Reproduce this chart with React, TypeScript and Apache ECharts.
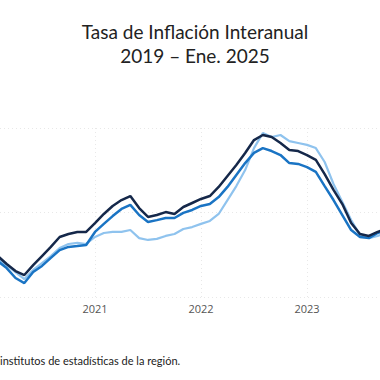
import React, { useEffect, useRef } from "react";
import * as echarts from "echarts";

const months: string[] = [
  "2020-02","2020-03","2020-04","2020-05","2020-06","2020-07","2020-08","2020-09","2020-10","2020-11","2020-12",
  "2021-01","2021-02","2021-03","2021-04","2021-05","2021-06","2021-07","2021-08","2021-09","2021-10","2021-11","2021-12",
  "2022-01","2022-02","2022-03","2022-04","2022-05","2022-06","2022-07","2022-08","2022-09","2022-10","2022-11","2022-12",
  "2023-01","2023-02","2023-03","2023-04","2023-05","2023-06","2023-07","2023-08","2023-09","2023-10",
];

const serieOscura: number[] = [
  1.94,1.56,1.23,1.04,1.51,1.94,2.37,2.84,2.98,3.08,3.08,
  3.50,3.93,4.31,4.59,4.78,4.21,3.79,3.88,4.02,3.93,4.26,4.45,
  4.64,4.78,5.21,5.73,6.25,6.82,7.43,7.67,7.57,7.29,6.96,6.91,
  6.72,6.49,5.82,5.07,4.40,3.50,2.98,2.89,3.08,3.22,
];

const serieMedia: number[] = [
  1.70,1.37,0.90,0.66,1.18,1.47,1.85,2.22,2.37,2.41,2.46,
  3.08,3.46,3.83,4.17,4.36,3.88,3.55,3.64,3.74,3.74,3.98,4.12,
  4.31,4.40,4.73,5.21,5.78,6.34,6.82,7.05,6.91,6.72,6.34,6.30,
  6.15,5.92,5.25,4.59,3.88,3.17,2.84,2.79,3.03,3.17,
];

const serieClara: number[] = [
  1.80,1.51,1.18,0.85,1.28,1.61,1.94,2.32,2.51,2.56,2.51,
  2.84,3.03,3.08,3.08,3.17,2.79,2.70,2.75,2.89,2.98,3.22,3.31,
  3.46,3.60,3.93,4.59,5.25,6.01,7.05,7.76,7.57,7.67,7.38,7.29,
  7.20,7.05,6.39,5.35,4.50,3.64,2.93,2.79,2.89,3.03,
];

const yearTicks: number[] = [2021, 2022, 2023];

const monthIndex = (s: string) => {
  const [y, m] = s.split("-").map(Number);
  return (y - 2021) * 12 + (m - 1);
};

const toPairs = (vals: number[]) => months.map((m, i) => [monthIndex(m), vals[i]]);

export default function App() {
  const ref = useRef<HTMLDivElement>(null);
  useEffect(() => {
    if (!ref.current) return;
    const chart = echarts.init(ref.current, null, { renderer: "svg" });
    const tickVals = yearTicks.map((y) => (y - 2021) * 12);
    chart.setOption({
      animation: false,
      backgroundColor: "#ffffff",
      title: {
        text: "Tasa de Inflación Interanual\n2019 – Ene. 2025",
        left: 190,
        top: 14,
        textAlign: "center",
        textStyle: {
          fontFamily: "Lato",
          fontWeight: "normal",
          fontSize: 19,
          lineHeight: 24,
          color: "#222222",
        },
      },
      graphic: [
        {
          type: "text",
          left: 0,
          top: 355,
          style: {
            text: "institutos de estadísticas de la región.",
            fontFamily: "Lato",
            fontSize: 11,
            fill: "#222222",
          },
        },
      ],
      grid: { left: 0, right: 0, top: 128, bottom: 83, containLabel: false },
      xAxis: {
        type: "value",
        min: -10.755,
        max: 32.265,
        axisLine: { show: false },
        axisTick: { show: false, customValues: tickVals },
        axisLabel: {
          customValues: tickVals,
          formatter: (v: number) => String(2021 + Math.round(v / 12)),
          fontFamily: "Open Sans",
          fontSize: 11,
          color: "#555555",
          margin: 6,
        },
        splitLine: {
          show: true,
          lineStyle: { type: [1, 3], color: "#e8e8e8", width: 1 },
        },
      },
      yAxis: {
        type: "value",
        min: 0,
        max: 8,
        interval: 4,
        axisLine: { show: false },
        axisTick: { show: false },
        axisLabel: { show: false },
        splitLine: {
          show: true,
          lineStyle: { type: [1, 3], color: "#e8e8e8", width: 1 },
        },
      },
      series: [
        {
          type: "line",
          data: toPairs(serieClara),
          showSymbol: false,
          lineStyle: { color: "#8fc3ee", width: 2.2 },
          itemStyle: { color: "#8fc3ee" },
        },
        {
          type: "line",
          data: toPairs(serieMedia),
          showSymbol: false,
          lineStyle: { color: "#1a74c4", width: 2.5 },
          itemStyle: { color: "#1a74c4" },
        },
        {
          type: "line",
          data: toPairs(serieOscura),
          showSymbol: false,
          lineStyle: { color: "#15284a", width: 2.5 },
          itemStyle: { color: "#15284a" },
        },
      ],
    });
    return () => chart.dispose();
  }, []);
  return (
    <div
      ref={ref}
      style={{ position: "fixed", left: 0, top: 0, width: 380, height: 380 }}
    />
  );
}
